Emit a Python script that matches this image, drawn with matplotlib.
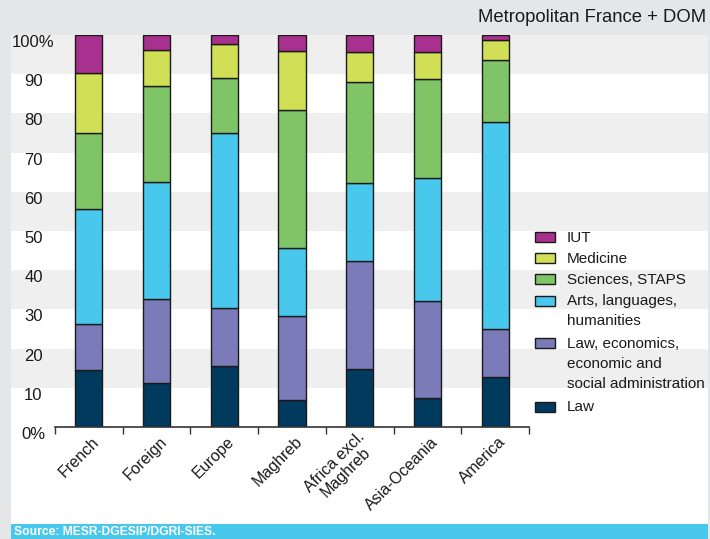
import numpy as np
import matplotlib
matplotlib.use('Agg')
import matplotlib.pyplot as plt
from matplotlib.patches import Rectangle
from matplotlib import transforms

plt.rcParams['font.family'] = ['Liberation Sans', 'DejaVu Sans']

# data: share of students by discipline (%)
regions = ['French', 'Foreign', 'Europe', 'Maghreb', 'Africa excl.\nMaghreb',
           'Asia-Oceania', 'America']

law = [14.5, 11.1, 15.6, 6.8, 14.7, 7.3, 12.7]
law_econ = [11.8, 21.6, 14.8, 21.6, 27.6, 24.9, 12.3]
arts = [29.2, 29.8, 44.5, 17.2, 20.0, 31.2, 52.7]
sciences = [19.6, 24.5, 14.1, 35.3, 25.6, 25.3, 16.0]
medicine = [15.2, 9.3, 8.6, 15.0, 7.8, 7.0, 4.9]
iut = [9.7, 3.7, 2.4, 4.1, 4.3, 4.3, 1.4]

series_names = ['Law', 'Law, economics,\neconomic and\nsocial administration',
                'Arts, languages,\nhumanities', 'Sciences, STAPS', 'Medicine', 'IUT']
series_values = [law, law_econ, arts, sciences, medicine, iut]
colors = ['#003a5e', '#7b7bb9', '#48c8ed', '#7fc466', '#d0df56', '#a8308f']

ytick_labels = ['0%', '10', '20', '30', '40', '50', '60', '70', '80', '90', '100%']

W, H = 710, 539


def fx(x):
    return x / W


def fy(y):
    return 1 - y / H


fig = plt.figure(figsize=(W / 100, H / 100), dpi=100)
fig.patch.set_facecolor('#e5e6e8')

# white panel + source band
fig.add_artist(Rectangle((fx(11), fy(524)), fx(708) - fx(11), fy(35) - fy(524),
                         transform=fig.transFigure, facecolor='white',
                         edgecolor='none', zorder=-5))
fig.add_artist(Rectangle((fx(11), 0), fx(708) - fx(11), fy(524),
                         transform=fig.transFigure, facecolor='#48c8ec',
                         edgecolor='none', zorder=-5))

ax = fig.add_axes([fx(55), fy(427), fx(529) - fx(55), fy(35) - fy(427)])
ax.set_facecolor('none')

# alternating grey bands across the whole panel
blend = transforms.blended_transform_factory(fig.transFigure, ax.transData)
for k in range(1, 10, 2):
    ax.add_patch(Rectangle((fx(11), k * 10), fx(708) - fx(11), 10,
                           transform=blend, facecolor='#efefef',
                           edgecolor='none', clip_on=False, zorder=0))

x = np.arange(len(regions))
bottom = np.zeros(len(regions))
for vals, col in zip(series_values, colors):
    ax.bar(x, vals, 0.4, bottom=bottom, color=col, edgecolor='#1a1a1a',
           linewidth=1.0, zorder=3)
    bottom += np.array(vals)

ax.set_xlim(-0.5, len(regions) - 0.5)
ax.set_ylim(0, 100)

for s in ['left', 'top', 'right']:
    ax.spines[s].set_visible(False)
ax.spines['bottom'].set_color('#333333')
ax.spines['bottom'].set_linewidth(1.2)
ax.spines['bottom'].set_zorder(4)

ax.set_yticks(range(0, 101, 10))
ax.set_yticklabels(ytick_labels, fontsize=12, color='#1a1a1a')
ax.tick_params(axis='y', length=0, pad=15.5)
for lab in ax.get_yticklabels():
    lab.set_ha('center')
    lab.set_va('top')

ax.set_xticks(x)
ax.set_xticks(np.arange(-0.5, len(regions), 1), minor=True)
ax.set_xticklabels(regions, rotation=45, ha='right', va='center',
                   rotation_mode='anchor', fontsize=11.5, color='#1a1a1a',
                   multialignment='center', linespacing=1.05)
ax.tick_params(axis='x', which='major', length=0, pad=9)
ax.tick_params(axis='x', which='minor', length=5, width=1, color='#333333')
shift = transforms.ScaledTranslation(0.08, 0, fig.dpi_scale_trans)
for lab in ax.get_xticklabels():
    lab.set_transform(lab.get_transform() + shift)

# legend drawn by hand, top entry first
y_line = 237
for name, col in zip(series_names[::-1], colors[::-1]):
    fig.add_artist(Rectangle((fx(535), fy(y_line + 5)), fx(555) - fx(535), 10 / H,
                             transform=fig.transFigure, facecolor=col,
                             edgecolor='#1a1a1a', linewidth=1.0, zorder=5))
    fig.text(fx(567), fy(y_line - 6.5), name, ha='left', va='top', fontsize=11,
             color='#1a1a1a', linespacing=1.55)
    y_line += 21.2 * (name.count('\n') + 1)

fig.text(fx(706), fy(17), 'Metropolitan France + DOM', ha='right', va='center',
         fontsize=13.3, color='#1a1a1a')
fig.text(fx(14), fy(532), 'Source: MESR-DGESIP/DGRI-SIES.', ha='left',
         va='center', fontsize=8.7, fontweight='bold', color='white')

fig.savefig('out.png', dpi=100, facecolor=fig.get_facecolor())
